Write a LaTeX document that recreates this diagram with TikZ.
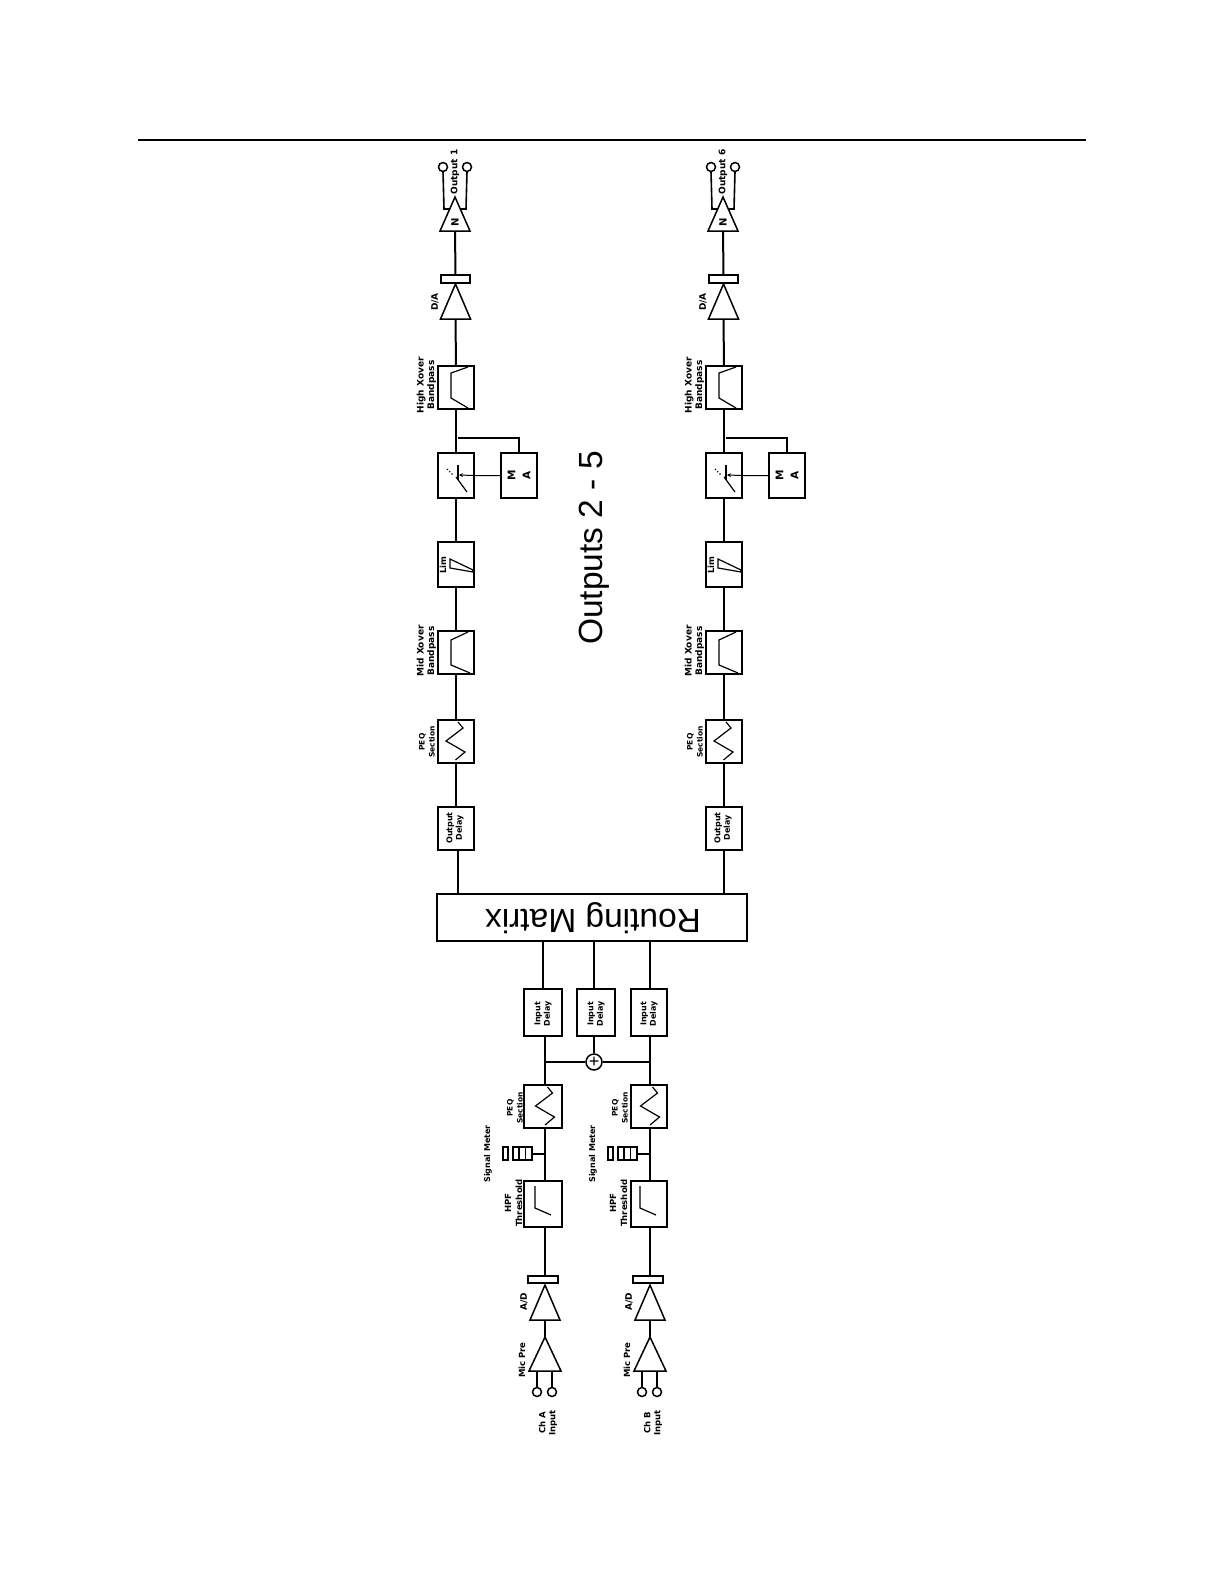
\documentclass[tikz,border=0pt]{standalone}
\usepackage{fontspec}
\setmainfont{Liberation Sans}
\newfontfamily\pix{DejaVu Sans}
\usetikzlibrary{arrows.meta}
\tikzset{
  wire/.style={line width=2pt,line cap=butt},
  thinwire/.style={line width=1pt},
  blk/.style={draw,line width=2pt,inner sep=0pt,outer sep=0pt},
  sym/.style={line width=1.2pt,line join=miter},
  port/.style={draw,circle,line width=1.5pt,inner sep=0pt,outer sep=0pt,minimum size=9pt},
  lab/.style={rotate=90,inner sep=0pt,align=center,font=\pix\bfseries\fontsize{9}{10.5}\selectfont},
  big/.style={inner sep=0pt,font=\fontsize{33.5}{36}\selectfont}
}
% box: name, x1, y1, x2, y2
\newcommand\bx[5]{\node[blk,minimum width={(#4-#2)*1pt},minimum height={(#5-#3)*1pt}] (#1) at ({(#2+#4)/2},{(#3+#5)/2}) {};}
% triangle: name, cx, top, base, half width
\newcommand\tri[5]{\draw[sym,line width=1.5pt] (#2,#3) -- (#2-#5,#4) -- (#2+#5,#4) -- cycle;
  \coordinate (#1top) at (#2,#3); \coordinate (#1base) at (#2,#4);}
\newcommand\wavy[2]{\draw[sym] (#1,#2+40) -- (#1+9.5,#2+32) -- (#1-9.5,#2+21) -- (#1+7.5,#2+8) -- (#1+2.5,#2+2);}
\newcommand\outchain[3]{%
\begin{scope}[xshift=#2pt]
  % connector
  \node[port] (#1pa) at (443,167) {};
  \node[port] (#1pb) at (467,167) {};
  \draw[sym,line width=1.6pt] (#1pa.south) -- (444,209) -- (450,209);
  \draw[sym,line width=1.6pt] (#1pb.south) -- (466,209) -- (460,209);
  \node[lab] (#1olab) at (455,172) {#3};
  \tri{#1amp}{455}{197}{231}{15}
  \node[lab,font=\pix\bfseries\fontsize{10}{11}\selectfont] (#1nlab) at (455,222) {N};
  % DAC
  \bx{#1dc}{441}{275}{470}{283}
  \tri{#1da}{455.5}{284}{319}{15}
  \node[lab] (#1dalab) at (435,302) {D/A};
  % top crossover
  \bx{#1xa}{438}{366}{474}{409}
  \draw[sym] (468,367) -- (451,373) -- (451,398) -- (468,408);
  \node[lab] (#1xalab) at (426.5,385) {High Xover\\Bandpass};
  % switch + side box
  \bx{#1sw}{438}{453}{474}{498}
  \bx{#1mx}{501}{453}{537}{498}
  \node[lab,font=\pix\bfseries\fontsize{10.5}{15}\selectfont] (#1mxlab) at (519,475) {M\\A};
  \draw[sym,dotted] (447,469) -- (453,475);
  \draw[sym] (456,477) -- (467,492);
  \draw[sym] (458,465) -- (458,480);
  \coordinate (#1arrow) at (459,475);
  \draw[thinwire,-{Stealth[length=4pt,width=4pt]}] (#1mx.west) -- (#1sw.east) -- (#1arrow);
  % limiter
  \bx{#1li}{438}{542}{474}{587}
  \node[lab,font=\pix\bfseries\fontsize{8.5}{10}\selectfont] (#1lilab) at (443,565) {Lim};
  \draw[sym] (450,559) -- (450,568) -- (473,572) -- (473,570) -- cycle;
  % mid crossover
  \bx{#1xb}{438}{631}{474}{674}
  \draw[sym] (468,632) -- (451,640) -- (451,665) -- (470,673);
  \node[lab] (#1xblab) at (426.5,651) {Mid Xover\\Bandpass};
  % EQ
  \bx{#1eq}{438}{720}{474}{763}
  \wavy{455.5}{720}
  \node[lab,font=\pix\bfseries\fontsize{7.5}{10}\selectfont] (#1eqlab) at (427,742) {PEQ\\Section};
  % delay
  \bx{#1dl}{438}{807}{474}{850}
  \node[lab,font=\pix\bfseries\fontsize{8}{9.5}\selectfont] (#1dllab) at (455,828) {Output\\Delay};
  % wires
  \draw[wire] (#1ampbase) -- (#1dc.north);
  \draw[wire] (#1dabase) -- (#1xa.north);
  \draw[wire] (#1xa.south) -- (#1sw.north);
  \coordinate (#1tap) at (458,438);
  \draw[wire] (#1tap) -- (#1tap -| #1mx.north) -- (#1mx.north);
  \draw[wire] (#1sw.south) -- (#1li.north);
  \draw[wire] (#1li.south) -- (#1xb.north);
  \draw[wire] (#1xb.south) -- (#1eq.north);
  \draw[wire] (#1eq.south) -- (#1dl.north);
\end{scope}}
% name, shift, box left, box right, wire offset, channel label
\newcommand\inchain[6]{%
\begin{scope}[xshift=#2pt]
  \bx{#1eq}{#3}{1085}{#4}{1128}
  \wavy{545}{1085}
  \node[lab,font=\pix\bfseries\fontsize{7.5}{10}\selectfont] (#1eqlab) at (515,1108) {PEQ\\Section};
  \bx{#1mt}{513}{1147}{532}{1160}
  \draw[sym] (519,1147) -- (519,1160) (525.5,1147) -- (525.5,1160);
  \bx{#1ms}{503}{1147}{508}{1160}
  \node[lab,font=\pix\bfseries\fontsize{8}{10}\selectfont] (#1mlab) at (488,1154) {Signal Meter};
  \bx{#1hp}{#3}{1181}{#4}{1227}
  \draw[sym] (535,1186) -- (535,1208) -- (551,1215);
  \node[lab,font=\pix\bfseries\fontsize{8.5}{11}\selectfont] (#1hplab) at (513.5,1203) {HPF\\Threshold};
  \bx{#1dc}{528}{1276}{558}{1283}
  \tri{#1ad}{545}{1285}{1320}{15}
  \node[lab] (#1adlab) at (524,1302) {A/D};
  \tri{#1mic}{545}{1337}{1371}{16}
  \node[lab,font=\pix\bfseries\fontsize{8.5}{10}\selectfont] (#1miclab) at (522,1360) {Mic Pre};
  \node[port] (#1pa) at (537,1392) {};
  \node[port] (#1pb) at (552,1392) {};
  \coordinate (#1ca) at (537,1371);
  \coordinate (#1cb) at (552,1371);
  \node[lab,font=\pix\bfseries\fontsize{8.5}{10}\selectfont] (#1chlab) at (548,1423) {#6\\Input};
  \draw[wire] (#1ca) -- (#1pa.north);
  \draw[wire] (#1cb) -- (#1pb.north);
  \draw[wire] (#1mictop) -- (#1adbase);
  \draw[wire] (#1adtop |- #1dc.north) -- (#1adtop |- #1hp.south);
  \draw[wire] ([xshift=#5pt]#1hp.north) -- ([xshift=#5pt]#1eq.south);
  \draw[wire] (#1mt.east) -- (#1mt.east -| #1adtop);
\end{scope}}
\begin{document}
\begin{tikzpicture}[x=1pt,y=-1pt]
\useasboundingbox (0,0) rectangle (1224,1584);
\fill[white] (0,0) rectangle (1224,1584);
\coordinate (ruleL) at (138,140);
\coordinate (ruleR) at (1086,140);
\draw[wire] (ruleL) -- (ruleR);

\outchain{L}{0}{Output 1}
\outchain{R}{268}{Output 6}

\node[big,rotate=90] (outs) at (594,548) {Outputs 2 - 5};

\bx{rm}{437}{894}{747}{941}
\node[big,rotate=180] (rmlab) at (593,918) {Routing Matrix};

\draw[wire] ([xshift=1.5pt]Ldl.south) -- ([xshift=1.5pt]Ldl.south |- rm.north);
\draw[wire] (Rdl.south) -- (Rdl.south |- rm.north);

% input delays
\bx{da}{524}{989}{562}{1036}
\bx{db}{577}{989}{615}{1036}
\bx{dc}{631}{989}{667}{1036}
\node[lab,font=\pix\bfseries\fontsize{8}{9.5}\selectfont] (dalab) at (543,1014) {Input\\Delay};
\node[lab,font=\pix\bfseries\fontsize{8}{9.5}\selectfont] (dblab) at (596,1014) {Input\\Delay};
\node[lab,font=\pix\bfseries\fontsize{8}{9.5}\selectfont] (dclab) at (649,1014) {Input\\Delay};
\draw[wire] (da.north) -- (da.north |- rm.south);
\draw[wire] ([xshift=-2pt]db.north) -- ([xshift=-2pt]db.north |- rm.south);
\draw[wire] ([xshift=1pt]dc.north) -- ([xshift=1pt]dc.north |- rm.south);

\inchain{A}{0}{524}{562}{2}{Ch A}
\inchain{B}{105}{526}{562}{1}{Ch B}

\node[draw,circle,line width=1.5pt,inner sep=0pt,minimum size=16pt,font=\fontsize{18}{18}\selectfont] (sum) at (594,1062) {+};
\draw[wire] ([xshift=-2pt]db.south) -- (sum.north);
\draw[wire] ([xshift=2pt]da.south) -- ([xshift=2pt]Aeq.north);
\draw[wire] ([xshift=1pt]dc.south) -- ([xshift=1pt]Beq.north);
\draw[wire] (sum.west) -- (sum.west -| Aadtop);
\draw[wire] (sum.east) -- (sum.east -| Badtop);
\end{tikzpicture}
\end{document}
